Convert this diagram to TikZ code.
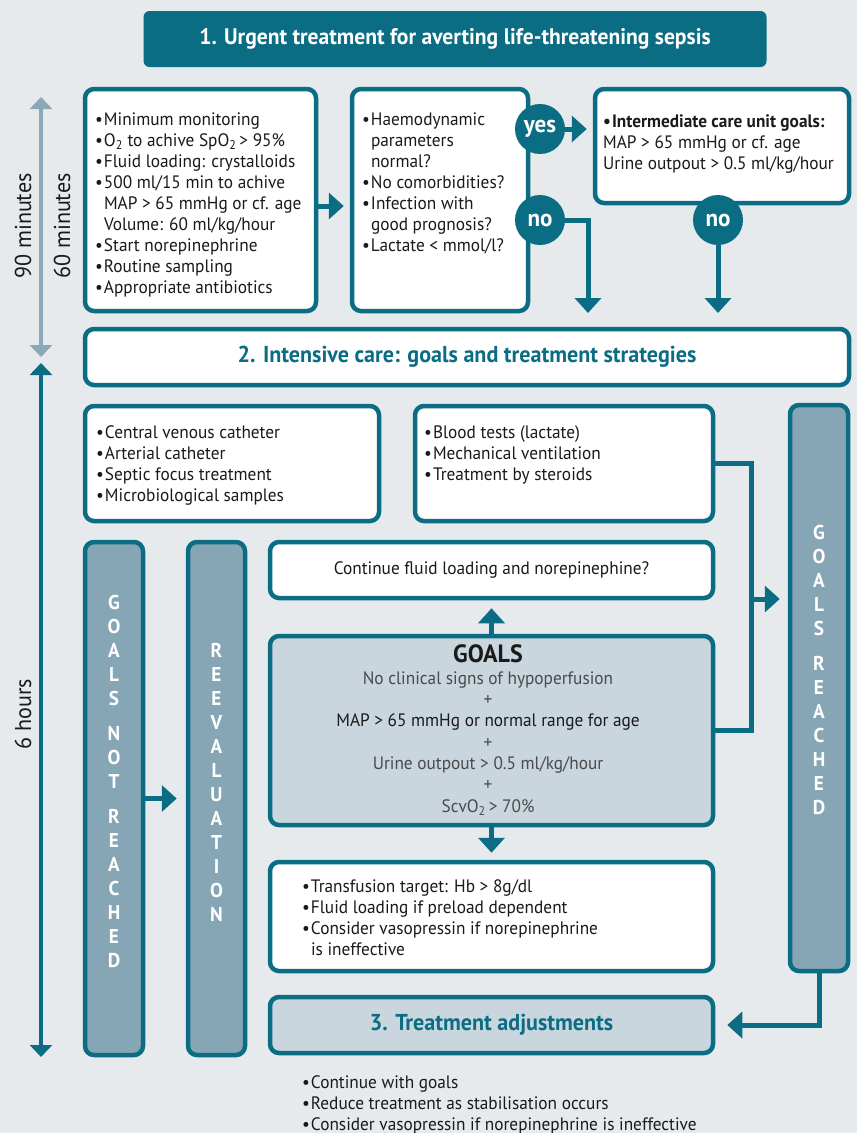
\documentclass[tikz,border=0pt]{standalone}
\usepackage{fontspec}
\setmainfont{PT Sans}[FakeStretch=0.96]
\usetikzlibrary{arrows.meta,positioning}
\definecolor{tl}{HTML}{0B6D83}
\definecolor{bgc}{HTML}{E6EAED}
\definecolor{barc}{HTML}{87A6B5}
\definecolor{lightc}{HTML}{C9D6DE}
\definecolor{armc}{HTML}{8BA8B7}
\definecolor{txt}{HTML}{1A1A1A}
\definecolor{gtx}{HTML}{4A4A4A}
\newcommand{\bl}{\textbullet\kern1pt}
\newcommand{\ind}{\hphantom{\textbullet\kern1pt}}

\begin{document}
\begin{tikzpicture}[x=1pt,y=-1pt,
    box/.style={draw=tl, line width=4.5pt, rounded corners=9pt, fill=white, inner sep=0pt},
    bar/.style={box, fill=barc},
    lst/.style={anchor=north west, align=left, inner sep=0pt, text=txt, font=\fontsize{18}{21}\selectfont},
    head/.style={font=\bfseries\fontsize{23}{24}\selectfont},
    vlet/.style={align=center, inner sep=0pt, text=white, font=\bfseries\fontsize{20}{24}\selectfont},
    circ/.style={circle, fill=tl, minimum size=50pt, inner sep=0pt, text=white, font=\bfseries\fontsize{24}{24}\selectfont},
    arr/.style={draw=tl, line width=5pt, -{Triangle[width=26pt,length=15pt]}},
    conn/.style={draw=tl, line width=5pt},
    time/.style={line width=3.5pt, {Triangle[width=22pt,length=12pt]}-{Triangle[width=22pt,length=12pt]}},
    tlab/.style={rotate=90, inner sep=0pt, text=txt, font=\fontsize{23}{24}\selectfont}
]
\fill[bgc] (0,0) rectangle (857,1133);
\useasboundingbox (0,0) rectangle (857,1133);

% time axis
\draw[time, draw=armc] (41,97) -- (41,357);
\draw[time, draw=tl] (41,363) -- (41,1057);
\node[tlab] (min90) at (23,226) {90 minutes};
\node[tlab] (min60) at (62,226) {60 minutes};
\node[tlab] (hours6) at (23,714) {6 hours};

% step 1
\node[fill=tl, rounded corners=6pt, minimum width=623pt, minimum height=56pt, text=white, head, font=\bfseries\fontsize{22.5}{24}\selectfont] (title) at (455,39)
    {1. Urgent treatment for averting life-threatening sepsis};
\node[box, minimum width=231pt, minimum height=222pt] (boxA) at (200.5,200) {};
\node[box, minimum width=176pt, minimum height=222pt] (boxB) at (440,200) {};
\node[box, minimum width=254pt, minimum height=114pt] (boxC) at (722,146) {};
\node[lst] (boxAtxt) at (95,113) {\bl Minimum monitoring\\
    \bl O\textsubscript{2} to achive SpO\textsubscript{2}\,> 95\%\\
    \bl Fluid loading: crystalloids\\
    \bl 500 ml/15 min to achive\\
    \ind MAP > 65 mmHg or cf. age\\
    \ind Volume: 60 ml/kg/hour\\
    \bl Start norepinephrine\\
    \bl Routine sampling\\
    \bl Appropriate antibiotics};
\node[lst] (boxBtxt) at (362,113) {\bl Haemodynamic\\
    \ind parameters\\
    \ind normal?\\
    \bl No comorbidities?\\
    \bl Infection with\\
    \ind good prognosis?\\
    \bl Lactate < mmol/l?};
\node[lst] (boxCtxt) at (603,114) {\textbf{\bl Intermediate care unit goals:}\\
    MAP > 65 mmHg or cf. age\\
    Urine outpout > 0.5 ml/kg/hour};
\node[circ] (yes) at (540,129) {yes};
\node[circ] (no1) at (540,220) {no};
\node[circ] (no2) at (718,220) {no};
\coordinate (n1end) at (588,313);

\draw[arr, shorten >=6pt] ([yshift=-6pt]boxA.east) -- ([yshift=-6pt]boxB.west);
\draw[arr, shorten >=6pt] (yes.east) -- (yes.east -| boxC.west);
\draw[arr] (no1.east) -| (n1end);
\draw[arr] (no2.south) -- (no2.south |- n1end);

% step 2
\node[box, minimum width=764pt, minimum height=56pt, text=tl, head] (intens) at (467,357)
    {2. Intensive care: goals and treatment strategies};
\node[box, minimum width=294pt, minimum height=115pt] (boxD) at (232,463.5) {};
\node[box, minimum width=298pt, minimum height=115pt] (boxE) at (564,463.5) {};
\node[lst] (boxDtxt) at (96,425) {\bl Central venous catheter\\
    \bl Arterial catheter\\
    \bl Septic focus treatment\\
    \bl Microbiological samples};
\node[lst] (boxEtxt) at (424,425) {\bl Blood tests (lactate)\\
    \bl Mechanical ventilation\\
    \bl Treatment by steroids};

\node[bar, minimum width=58pt, minimum height=513pt] (notbar) at (114,798.5) {};
\node[bar, minimum width=57pt, minimum height=513pt] (rebar) at (216.5,798.5) {};
\node[bar, minimum width=58pt, minimum height=566pt] (reached) at (819,688) {};
\node[vlet] (nottxt) at (114,781) {G\\O\\A\\L\\S\\[11pt]N\\O\\T\\[11pt]R\\E\\A\\C\\H\\E\\D};
\node[vlet] (retxt) at (216.5,782) {R\\E\\E\\V\\A\\L\\U\\A\\T\\I\\O\\N};
\node[vlet] (reachedtxt) at (819,670) {G\\O\\A\\L\\S\\[11pt]R\\E\\A\\C\\H\\E\\D};

\node[box, minimum width=443pt, minimum height=56pt, text=txt, font=\fontsize{18}{21}\selectfont] (cont) at (491.5,570)
    {Continue fluid loading and norepinephine?};
\node[box, fill=lightc, minimum width=443pt, minimum height=189pt] (goals) at (491.5,730.5) {};
\node[align=center, inner sep=0pt, anchor=north, text=gtx, font=\fontsize{18}{21.3}\selectfont] (goalstxt) at (488,644)
    {{\color{txt}\bfseries\fontsize{25}{25}\selectfont GOALS}\\[1pt]
    No clinical signs of hypoperfusion\\
    +\\
    {\color{txt}MAP > 65 mmHg or normal range for age}\\
    +\\
    Urine outpout > 0.5 ml/kg/hour\\
    +\\
    ScvO\textsubscript{2}\,> 70\%};
\node[box, minimum width=443pt, minimum height=109pt] (boxF) at (491.5,916.5) {};
\node[lst] (boxFtxt) at (302,879) {\bl Transfusion target: Hb > 8g/dl\\
    \bl Fluid loading if preload dependent\\
    \bl Consider vasopressin if norepinephrine\\
    \ind is ineffective};

% step 3
\node[box, fill=lightc, minimum width=443pt, minimum height=56pt, text=tl, head] (adjust) at (491.5,1025)
    {3. Treatment adjustments};
\node[lst] (adjusttxt) at (302,1075) {\bl Continue with goals\\
    \bl Reduce treatment as stabilisation occurs\\
    \bl Consider vasopressin if norepinephrine is ineffective};

\coordinate (jtop) at (751,463.5);
\coordinate (jbot) at (751,730.5);
\coordinate (jmid) at (751,599);
\draw[conn] (boxE.east) -- (jtop) -- (jbot) -- (goals.east);
\draw[arr, shorten >=8pt] (jmid) -- (jmid -| reached.west);
\draw[arr, shorten >=12pt] (reached.south) |- (adjust.east);
\draw[arr, shorten >=9pt] (notbar.east) -- (rebar.west);
\draw[arr, shorten >=8pt] (goals.north) -- (cont.south);
\draw[arr, shorten >=7pt] (goals.south) -- (boxF.north);
\end{tikzpicture}
\end{document}
